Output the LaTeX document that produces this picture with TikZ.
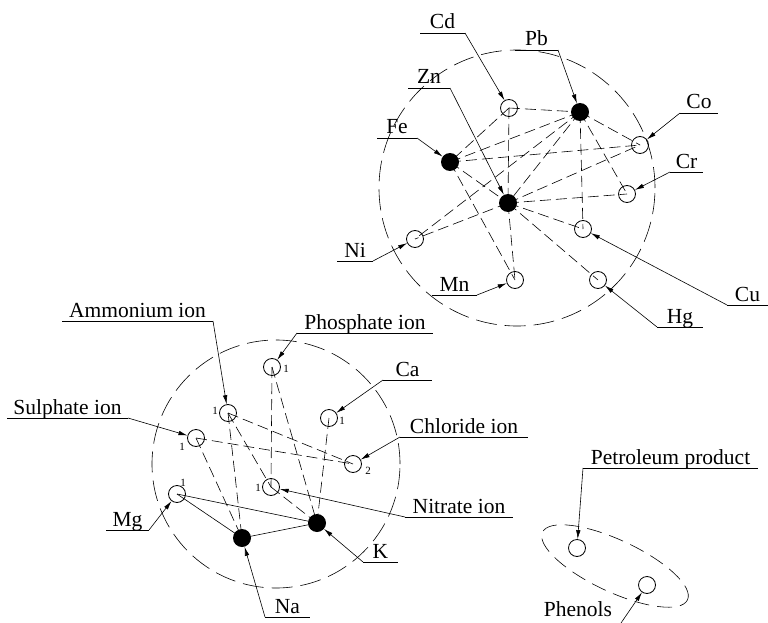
\documentclass[tikz,border=0pt]{standalone}
\usepackage{fontspec}
\setmainfont{Liberation Serif}
\usetikzlibrary{arrows.meta,calc}
\begin{document}
\begin{tikzpicture}[x=1pt,y=-1pt,
  oc/.style={circle,draw,line width=0.8pt,minimum size=17pt,inner sep=0pt},
  fc/.style={circle,fill,minimum size=18pt,inner sep=0pt},
  link/.style={line width=0.6pt,dash pattern=on 11pt off 5pt},
  solidlink/.style={line width=0.6pt},
  zone/.style={line width=0.6pt,dash pattern=on 21pt off 8pt},
  ezone/.style={line width=0.6pt,dash pattern=on 15pt off 8pt},
  uline/.style={line width=0.6pt},
  leader/.style={line width=0.6pt,-{Latex[length=9pt,width=4.5pt]}},
  lbl/.style={font=\fontsize{21.5}{24}\selectfont,inner sep=0pt,anchor=base},
  num/.style={font=\fontsize{11}{12}\selectfont,inner sep=0pt}
]
\useasboundingbox (0,0) rectangle (768,623);

% ---------- zones ----------
\draw[zone] (517,188) circle[radius=138pt];
\draw[zone] (276,464) circle[radius=124pt];
\draw[ezone,rotate around={-25:(615,566)}] (615,566) ellipse[x radius=80pt,y radius=26pt];

% ---------- top cluster nodes ----------
\node[oc] (Cd) at (509,108) {};
\node[fc] (Pb) at (580,112) {};
\node[fc] (Fe) at (450,162) {};
\node[fc] (Zn) at (508,203) {};
\node[oc] (Co) at (640,145) {};
\node[oc] (Cr) at (627,194) {};
\node[oc] (Cu) at (583,229) {};
\node[oc] (Ni) at (415,239) {};
\node[oc] (Mn) at (515,280) {};
\node[oc] (Hg) at (598,280) {};

% top links
\foreach \a/\b in {Cd/Pb,Cd/Zn,Cd/Fe,Fe/Pb,Fe/Co,Fe/Zn,Fe/Mn,Pb/Zn,Pb/Ni,Pb/Cu,Pb/Co,Pb/Cr,Zn/Co,Zn/Cr,Zn/Cu,Zn/Hg,Zn/Mn,Zn/Ni}
  \draw[link] (\a.center) -- (\b.center);

% ---------- bottom cluster nodes ----------
\node[oc] (Ph) at (272,367) {};
\node[oc] (Am) at (228,413) {};
\node[oc] (Ca) at (329,418) {};
\node[oc] (Su) at (196,438) {};
\node[oc] (Cl) at (353,464) {};
\node[oc] (Ni3) at (271,487) {};
\node[oc] (Mg) at (177,494) {};
\node[fc] (Na) at (242,538) {};
\node[fc] (K) at (317,523) {};

\foreach \a/\b in {Ph/Ni3,Ph/K,Am/Cl,Am/Na,Am/Ni3,Ni3/K,Su/Cl,Su/Na,Ca/K}
  \draw[link] (\a.center) -- (\b.center);
\foreach \a/\b in {Mg/Na,Mg/K,Na/K}
  \draw[solidlink] (\a.center) -- (\b.center);

\node[num] (nPh) at (286,369) {1};
\node[num] (nAm) at (215,411) {1};
\node[num] (nCa) at (342,421) {1};
\node[num] (nSu) at (182,447) {1};
\node[num] (nCl) at (368,471) {2};
\node[num] (nNi) at (258,488) {1};
\node[num] (nMg) at (183,483) {1};

% ---------- bottom-right nodes ----------
\node[oc] (Pe) at (577,548) {};
\node[oc] (Pn) at (647,585) {};

% ---------- labels ----------
\newcommand{\lab}[6]{%
  \coordinate (#1L) at (#2,#4);
  \coordinate (#1R) at (#3,#4);
  \draw[uline] (#1L) -- (#1R);
  \node[lbl] (#1T) at ($(#1L)!0.5!(#1R)+(0,-4)$) {#6};
  \draw[leader] (#1#5) -- (#1);
}
\lab{Cd}{420}{465}{33}{R}{Cd}
\lab{Pb}{515}{558}{50}{R}{Pb}
\lab{Zn}{408}{450}{88}{R}{Zn}
\lab{Fe}{377}{417}{138}{R}{Fe}
\lab{Co}{680}{718}{113}{L}{Co}
\lab{Cr}{670}{703}{172}{L}{Cr}
\lab{Cu}{727}{768}{305}{L}{Cu}
\lab{Hg}{657}{703}{327}{L}{Hg}
\lab{Ni}{337}{373}{261}{R}{Ni}
\lab{Mn}{432}{477}{295}{R}{Mn}

\lab{Am}{62}{213}{321}{R}{Ammonium ion}
\lab{Su}{7}{128}{418}{R}{Sulphate ion}
\lab{Ph}{297}{433}{333}{L}{Phosphate ion}
\lab{Ca}{383}{432}{380}{L}{Ca}
\lab{Cl}{400}{528}{437}{L}{Chloride ion}
\lab{Ni3}{405}{513}{517}{L}{Nitrate ion}
\lab{Mg}{106}{149}{530}{R}{Mg}
\lab{Na}{265}{310}{617}{L}{Na}
\lab{K}{363}{398}{562}{L}{K}
\lab{Pe}{583}{758}{468}{L}{Petroleum product}

\coordinate (PnE) at (621,623);
\node[lbl] (PnT) at (578,616) {Phenols};
\draw[leader] (PnE) -- (Pn);
\end{tikzpicture}
\end{document}
